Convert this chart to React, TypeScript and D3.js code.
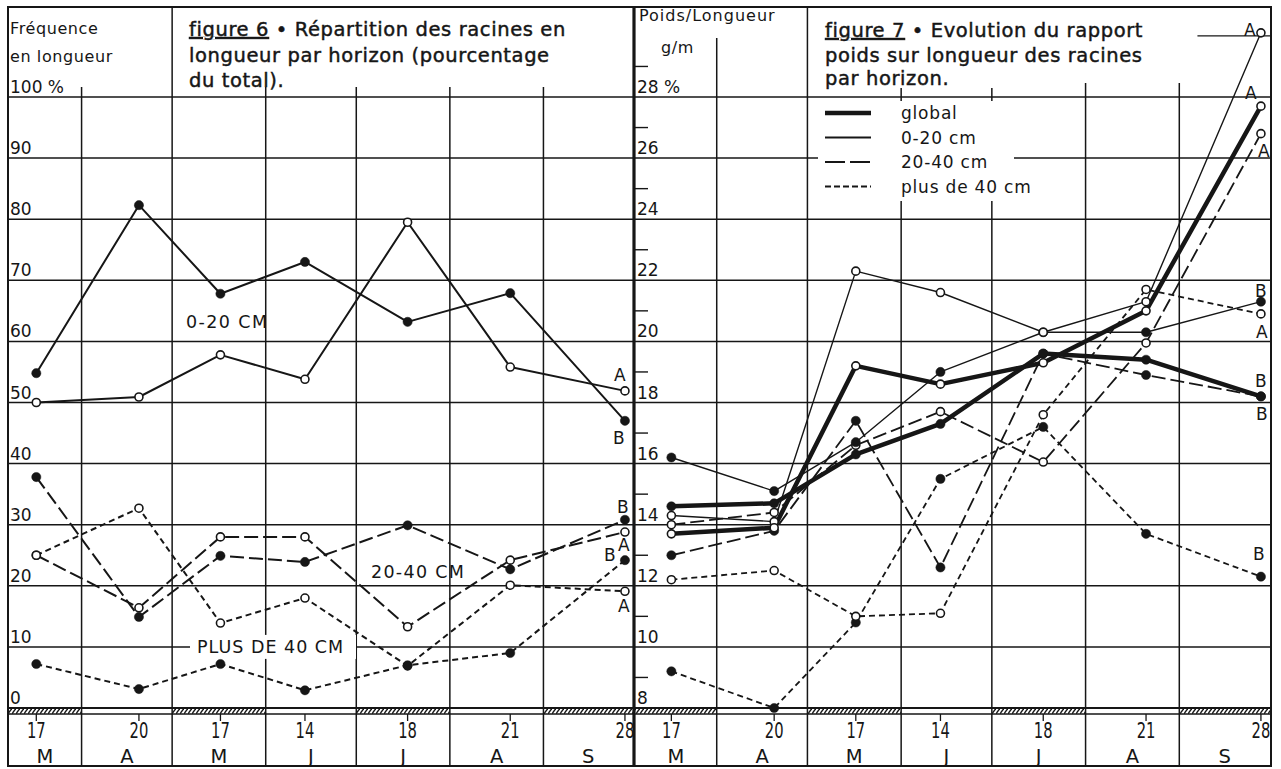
import React, { useEffect, useRef } from "react";
import * as d3 from "d3";

// sampling dates, shared by both figures
const sampleDates = ["1977-03-17", "1977-04-20", "1977-05-17", "1977-06-14", "1977-07-18", "1977-08-21", "1977-09-28"];
const dayLabels = ["17", "20", "17", "14", "18", "21", "28"];
const monthStarts = ["1977-03-01", "1977-04-01", "1977-05-01", "1977-06-01", "1977-07-01", "1977-08-01", "1977-09-01", "1977-10-01"];
const monthLetters = ["M", "A", "M", "J", "J", "A", "S"];

// figure 6 : % of total root length per horizon (A = open dots, B = filled dots)
const f6_020_A = [50.0, 50.9, 57.8, 53.8, 79.5, 55.8, 51.9];
const f6_020_B = [54.8, 82.3, 67.8, 73.0, 63.2, 67.9, 47.0];
const f6_2040_A = [25.0, 16.4, 28.0, 28.0, 13.3, 24.2, 28.8];
const f6_2040_B = [37.8, 14.9, 24.9, 23.9, 29.9, 22.7, 30.8];
const f6_40_A = [25.0, 32.7, 13.9, 18.0, 6.9, 20.1, 19.1];
const f6_40_B = [7.2, 3.1, 7.2, 2.9, 7.0, 9.0, 24.2];
const f6Ticks = [0, 10, 20, 30, 40, 50, 60, 70, 80, 90, 100];

// figure 7 : weight / length ratio (g/m)
const f7_global_A = [13.7, 13.9, 19.2, 18.6, 19.3, 21.0, 27.7];
const f7_global_B = [14.6, 14.7, 16.3, 17.3, 19.6, 19.4, 18.2];
const f7_020_A = [14.3, 14.1, 22.3, 21.6, 20.3, 21.3, 30.1];
const f7_020_B = [16.2, 15.1, 16.7, 19.0, 20.3, 20.3, 21.3];
const f7_2040_A = [14.0, 14.4, 16.6, 17.7, 16.05, 19.95, 26.8];
const f7_2040_B = [13.0, 13.8, 17.4, 12.6, 19.6, 18.9, 18.2];
const f7_40_A = [12.2, 12.5, 11.0, 11.1, 17.6, 21.7, 20.9];
const f7_40_B = [9.2, 8.0, 10.8, 15.5, 17.2, 13.7, 12.3];
const f7Ticks = [8, 10, 12, 14, 16, 18, 20, 22, 24, 26, 28];
const f7Minor = [9, 11, 13, 15, 17, 19, 21, 23, 25, 27, 29];
const legendLabels = ["global", "0-20 cm", "20-40 cm", "plus de 40 cm"];

const ink = "#161616";
const sans = "'DejaVu Sans', 'Liberation Sans', sans-serif";
const yTop = 97;
const yBase = 708;
const bandBottom = 714;
const frameBottom = 766;
const parse = d3.timeParse("%Y-%m-%d");

const solid = { width: 2, dash: null };
const longDash = { width: 2, dash: "14,5" };
const shortDash = { width: 2, dash: "6,4" };

const drawPanel = (svg, p) => {
	const dates = sampleDates.map(parse);
	const months = monthStarts.map(parse);
	const x = d3.scaleTime().domain([months[0], months[months.length - 1]]).range(p.xRange);
	const y = d3.scaleLinear().domain(p.yDomain).range([yBase, yTop]);
	const g = svg.append("g");

	// horizontal grid
	g.selectAll(".hgrid")
		.data(p.ticks.slice(1))
		.join("line")
		.attr("x1", p.left)
		.attr("x2", p.right)
		.attr("y1", (d) => y(d))
		.attr("y2", (d) => y(d))
		.attr("stroke", ink)
		.attr("stroke-width", 1.5);

	// hatched band at the base, one month in two
	const bands = months.slice(0, -1).map((m, i) => ({
		x0: Math.max(p.left, x(m)),
		x1: Math.min(p.right, x(months[i + 1])),
		hatch: i % 2 === 0,
	}));
	g.selectAll(".band")
		.data(bands)
		.join("rect")
		.attr("x", (d) => d.x0)
		.attr("y", yBase)
		.attr("width", (d) => d.x1 - d.x0)
		.attr("height", bandBottom - yBase)
		.attr("fill", (d) => (d.hatch ? "url(#hatch)" : "#fff"));
	[yBase, bandBottom].forEach((yy, i) =>
		g.append("line")
			.attr("x1", p.left)
			.attr("x2", p.right)
			.attr("y1", yy)
			.attr("y2", yy)
			.attr("stroke", ink)
			.attr("stroke-width", i === 0 ? 2.2 : 1.4)
	);

	// month separators
	g.selectAll(".vgrid")
		.data(months.slice(1, -1))
		.join("line")
		.attr("x1", (d) => x(d))
		.attr("x2", (d) => x(d))
		.attr("y1", (d, i) => p.vStart[i])
		.attr("y2", frameBottom)
		.attr("stroke", ink)
		.attr("stroke-width", 1.5);

	// little ticks under the band at each sampling date
	g.selectAll(".dtick")
		.data(dates)
		.join("line")
		.attr("x1", (d) => x(d))
		.attr("x2", (d) => x(d))
		.attr("y1", bandBottom)
		.attr("y2", bandBottom + 7)
		.attr("stroke", ink)
		.attr("stroke-width", 1.3);

	// condensed day numbers
	g.selectAll(".dlabel")
		.data(dates)
		.join("text")
		.attr("transform", (d) => `translate(${x(d)},738) scale(0.72,1)`)
		.attr("text-anchor", "middle")
		.attr("font-family", sans)
		.attr("font-size", 20.5)
		.attr("fill", ink)
		.text((d, i) => dayLabels[i]);

	g.selectAll(".mlabel")
		.data(bands)
		.join("text")
		.attr("x", (d) => (d.x0 + d.x1) / 2)
		.attr("y", 763)
		.attr("text-anchor", "middle")
		.attr("font-family", sans)
		.attr("font-size", 19.5)
		.attr("fill", ink)
		.text((d, i) => monthLetters[i]);

	// y labels sitting just above their grid line
	g.selectAll(".ylabel")
		.data(p.ticks)
		.join("text")
		.attr("x", p.left + 2)
		.attr("y", (d) => y(d) - 4)
		.attr("font-family", sans)
		.attr("font-size", 17)
		.attr("fill", ink)
		.text((d) => (d === p.yDomain[1] ? `${d} %` : d));

	if (p.minor) {
		g.selectAll(".minor")
			.data(p.minor)
			.join("line")
			.attr("x1", p.left)
			.attr("x2", p.left + 13)
			.attr("y1", (d) => y(d))
			.attr("y2", (d) => y(d))
			.attr("stroke", ink)
			.attr("stroke-width", 1.4);
	}

	if (p.extra) p.extra(g, x, y);

	// series
	const line = d3
		.line()
		.x((d, i) => x(dates[i]))
		.y((d) => y(d));
	p.series.forEach((s) => {
		g.append("path")
			.attr("d", line(s.values))
			.attr("fill", "none")
			.attr("stroke", ink)
			.attr("stroke-width", s.style.width)
			.attr("stroke-dasharray", s.style.dash)
			.attr("stroke-linejoin", "round");
	});
	p.series.forEach((s) => {
		g.selectAll(null)
			.data(s.values)
			.join("circle")
			.attr("cx", (d, i) => x(dates[i]))
			.attr("cy", (d) => y(d))
			.attr("r", s.open ? 4 : 4.6)
			.attr("fill", s.open ? "#fff" : ink)
			.attr("stroke", ink)
			.attr("stroke-width", s.open ? 1.6 : 0.5);
		const last = s.values.length - 1;
		g.append("text")
			.attr("x", x(dates[last]) + s.tag[1])
			.attr("y", y(s.values[last]) + s.tag[2])
			.attr("text-anchor", "middle")
			.attr("font-family", sans)
			.attr("font-size", 17)
			.attr("fill", ink)
			.text(s.tag[0]);
	});
};

const App = () => {
	const ref = useRef(null);
	useEffect(() => {
		const svg = d3.select(ref.current);
		svg.selectAll("*").remove();

		const pat = svg
			.append("defs")
			.append("pattern")
			.attr("id", "hatch")
			.attr("patternUnits", "userSpaceOnUse")
			.attr("width", 4)
			.attr("height", 6);
		pat.append("rect").attr("width", 4).attr("height", 6).attr("fill", "#fff");
		pat.append("path").attr("d", "M-1,7 L5,-1").attr("stroke", ink).attr("stroke-width", 1.4);

		svg.append("rect").attr("width", 1281).attr("height", 769).attr("fill", "#fff");

		// ---- figure 6
		drawPanel(svg, {
			left: 8,
			right: 633,
			xRange: [-12, 634],
			yDomain: [0, 100],
			ticks: f6Ticks,
			vStart: [87, 7, 87, 87, 87, 87],
			series: [
				{ values: f6_020_A, style: solid, open: true, tag: ["A", -5, -10] },
				{ values: f6_020_B, style: solid, open: false, tag: ["B", -6, 23] },
				{ values: f6_2040_A, style: longDash, open: true, tag: ["A", -1, 19] },
				{ values: f6_2040_B, style: longDash, open: false, tag: ["B", -2, -7] },
				{ values: f6_40_A, style: shortDash, open: true, tag: ["A", -1, 21] },
				{ values: f6_40_B, style: shortDash, open: false, tag: ["B", -15, 1] },
			],
			extra: (g, x, y) => {
				g.append("rect").attr("x", 190).attr("y", y(10) - 12).attr("width", 166).attr("height", 24).attr("fill", "#fff");
				const lab = (t, xx, yy, ls) =>
					g.append("text").attr("x", xx).attr("y", yy).attr("font-family", sans).attr("font-size", 17.5)
						.attr("letter-spacing", ls).attr("fill", ink).text(t);
				lab("0-20 CM", 186, 328, 1.4);
				lab("20-40 CM", 371, 578, 1.3);
				lab("PLUS DE 40 CM", 197, 653, 1);
			},
		});

		// ---- figure 7
		drawPanel(svg, {
			left: 635,
			right: 1271,
			xRange: [623, 1270],
			yDomain: [8, 28],
			ticks: f7Ticks,
			minor: f7Minor,
			vStart: [38, 7, 88, 88, 83, 83],
			series: [
				{ values: f7_40_B, style: { width: 1.8, dash: "6,4" }, open: false, tag: ["B", -2, -17] },
				{ values: f7_40_A, style: { width: 1.8, dash: "6,4" }, open: true, tag: ["A", 1, 24] },
				{ values: f7_2040_B, style: { width: 1.8, dash: "14,5" }, open: false, tag: ["B", 1, 24] },
				{ values: f7_2040_A, style: { width: 1.8, dash: "14,5" }, open: true, tag: ["A", 3, 23] },
				{ values: f7_020_B, style: { width: 1.4, dash: null }, open: false, tag: ["B", 0, -5] },
				{ values: f7_020_A, style: { width: 1.4, dash: null }, open: true, tag: ["A", -11, 3] },
				{ values: f7_global_B, style: { width: 4.5, dash: null }, open: false, tag: ["B", 0, -9] },
				{ values: f7_global_A, style: { width: 4.5, dash: null }, open: true, tag: ["A", -10, -7] },
			],
			extra: (g, x, y) => {
				// short grid stub at 30
				g.append("line").attr("x1", x(parse("1977-09-07"))).attr("x2", 1271).attr("y1", y(30)).attr("y2", y(30))
					.attr("stroke", ink).attr("stroke-width", 1.4);
				// legend
				g.append("rect").attr("x", 818).attr("y", 101).attr("width", 196).attr("height", 100).attr("fill", "#fff");
				const styles = [
					{ width: 4.5, dash: null },
					{ width: 2, dash: null },
					{ width: 2, dash: "20,5" },
					{ width: 2, dash: "6,3" },
				];
				legendLabels.forEach((t, i) => {
					const yy = 113 + i * 24.5;
					g.append("line").attr("x1", 825).attr("x2", 871).attr("y1", yy).attr("y2", yy)
						.attr("stroke", ink).attr("stroke-width", styles[i].width).attr("stroke-dasharray", styles[i].dash);
					g.append("text").attr("x", 901).attr("y", yy + 6).attr("font-family", sans).attr("font-size", 17)
						.attr("letter-spacing", 0.8).attr("fill", ink).text(t);
				});
			},
		});

		// frame and panel divider
		svg.append("rect").attr("x", 8).attr("y", 7).attr("width", 1263).attr("height", frameBottom - 7)
			.attr("fill", "none").attr("stroke", ink).attr("stroke-width", 2);
		svg.append("line").attr("x1", 634).attr("x2", 634).attr("y1", 7).attr("y2", frameBottom)
			.attr("stroke", ink).attr("stroke-width", 3.2);

		// headers
		const txt = (t, xx, yy) =>
			svg.append("text").attr("x", xx).attr("y", yy).attr("font-family", sans)
				.attr("font-size", 16).attr("letter-spacing", 0.6).attr("fill", ink).text(t);
		txt("Fréquence", 10, 34);
		txt("en longueur", 10, 62);
		txt("Poids/Longueur", 639, 21).attr("letter-spacing", 1);
		txt("g/m", 661, 53);

		const title = (lines, xx, ys, fig) => {
			lines.forEach((l, i) => {
				const t = svg.append("text").attr("x", xx).attr("y", ys[i]).attr("font-family", sans)
					.attr("font-size", 19.5).attr("letter-spacing", 0.6).attr("fill", ink)
					.attr("stroke", ink).attr("stroke-width", 0.45);
				if (i === 0) {
					t.append("tspan").attr("text-decoration", "underline").text(fig);
					t.append("tspan").text(" • " + l);
				} else t.text(l);
			});
		};
		title(["Répartition des racines en", "longueur par horizon (pourcentage", "du total)."], 189, [36, 62, 87], "figure 6");
		title(["Evolution du rapport", "poids sur longueur des racines", "par horizon."], 825, [37, 62, 85], "figure 7");
	}, []);

	return (
		<svg
			ref={ref}
			width={1281}
			height={769}
			style={{ position: "absolute", left: 0, top: 0, display: "block" }}
		/>
	);
};

export default App;
